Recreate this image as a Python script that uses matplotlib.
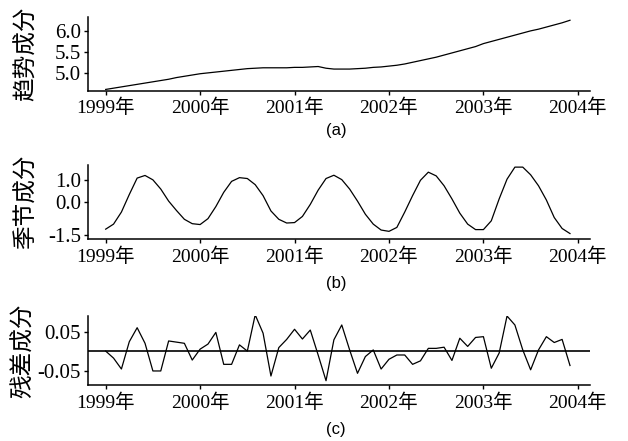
import numpy as np
import matplotlib.pyplot as plt

plt.rcParams['font.family'] = ['Liberation Serif', 'Noto Sans CJK SC', 'DejaVu Sans']

# monthly decomposition, Jan 1999 - Dec 2003
months = np.arange(60)
trend = [4.62, 4.65, 4.68, 4.71, 4.74, 4.77, 4.80, 4.83, 4.86, 4.90, 4.93, 4.96,
         4.99, 5.01, 5.03, 5.05, 5.07, 5.09, 5.11, 5.12, 5.13, 5.13, 5.13, 5.13,
         5.14, 5.14, 5.15, 5.16, 5.12, 5.10, 5.10, 5.10, 5.11, 5.12, 5.14, 5.15,
         5.17, 5.19, 5.22, 5.26, 5.30, 5.34, 5.38, 5.43, 5.48, 5.53, 5.58, 5.63,
         5.70, 5.75, 5.80, 5.85, 5.90, 5.95, 6.00, 6.04, 6.09, 6.14, 6.19, 6.25]
seasonal = [-1.23, -1.00, -0.45, 0.35, 1.10, 1.22, 1.02, 0.60, 0.05, -0.38, -0.78, -0.98,
            -1.02, -0.75, -0.20, 0.45, 0.95, 1.12, 1.08, 0.80, 0.30, -0.40, -0.78, -0.95,
            -0.93, -0.65, -0.10, 0.55, 1.08, 1.23, 1.03, 0.60, 0.05, -0.55, -1.00, -1.27,
            -1.33, -1.15, -0.45, 0.30, 1.00, 1.37, 1.20, 0.75, 0.15, -0.50, -1.00, -1.25,
            -1.25, -0.85, 0.15, 1.05, 1.60, 1.60, 1.25, 0.75, 0.10, -0.70, -1.20, -1.43]
residual = [0.000, -0.018, -0.046, 0.024, 0.060, 0.020, -0.051, -0.051, 0.026, 0.023, 0.020, -0.023,
            0.005, 0.018, 0.048, -0.034, -0.034, 0.016, 0.000, 0.093, 0.046, -0.064, 0.009, 0.030,
            0.056, 0.031, 0.054, -0.010, -0.076, 0.029, 0.067, 0.003, -0.057, -0.014, 0.003, -0.046,
            -0.021, -0.010, -0.010, -0.034, -0.025, 0.007, 0.007, 0.010, -0.024, 0.033, 0.012, 0.035,
            0.037, -0.044, -0.005, 0.090, 0.067, 0.003, -0.048, 0.003, 0.037, 0.022, 0.030, -0.037]

years = [1999, 2000, 2001, 2002, 2003, 2004]
year_labels = [f'{y}年' for y in years]

t = 1999 + months / 12.0

fig = plt.figure(figsize=(6.28, 4.41), dpi=100)

panels = [
    # rect, data, ylabel, label x, yticks, yticklabels, ylim, caption, caption y
    ([0.1397, 0.7943, 0.8000, 0.1665], trend, '趋势成分', -0.10,
     [5.0, 5.5, 6.0], ['5.0', '5.5', '6.0'], (4.59, 6.32), '(a)', 0.705),
    ([0.1397, 0.4580, 0.8000, 0.1680], seasonal, '季节成分', -0.10,
     [-1.5, 0.0, 1.0], ['-1.5', '0.0', '1.0'], (-1.68, 1.70), '(b)', 0.358),
    ([0.1397, 0.1270, 0.8000, 0.1564], residual, '残差成分', -0.105,
     [-0.05, 0.05], ['-0.05', '0.05'], (-0.087, 0.090), '(c)', 0.027),
]

for rect, data, ylab, lab_x, yt, ytl, ylim, cap, cap_y in panels:
    ax = fig.add_axes(rect)
    ax.plot(t, data, color='black', lw=0.9)
    if cap == '(c)':
        ax.axhline(0, color='black', lw=1.2)
    ax.set_xlim(1998.81, 2004.13)
    ax.set_ylim(*ylim)
    ax.set_xticks(years)
    ax.set_xticklabels(year_labels, fontsize=14)
    ax.set_yticks(yt)
    ax.set_yticklabels(ytl, fontsize=15)
    ax.tick_params(axis='both', direction='out', length=3, width=1, pad=2)
    ax.tick_params(axis='x', pad=3)
    for s in ['top', 'right']:
        ax.spines[s].set_visible(False)
    for s in ['left', 'bottom']:
        ax.spines[s].set_linewidth(1.1)
    ax.set_ylabel(ylab, fontsize=17, family=['Noto Sans CJK SC'])
    ax.yaxis.set_label_coords(lab_x, 0.5)
    fig.text(0.535, cap_y, cap, ha='center', va='center', fontsize=12,
             family=['Liberation Sans'])

fig.savefig('out.png', dpi=100)
